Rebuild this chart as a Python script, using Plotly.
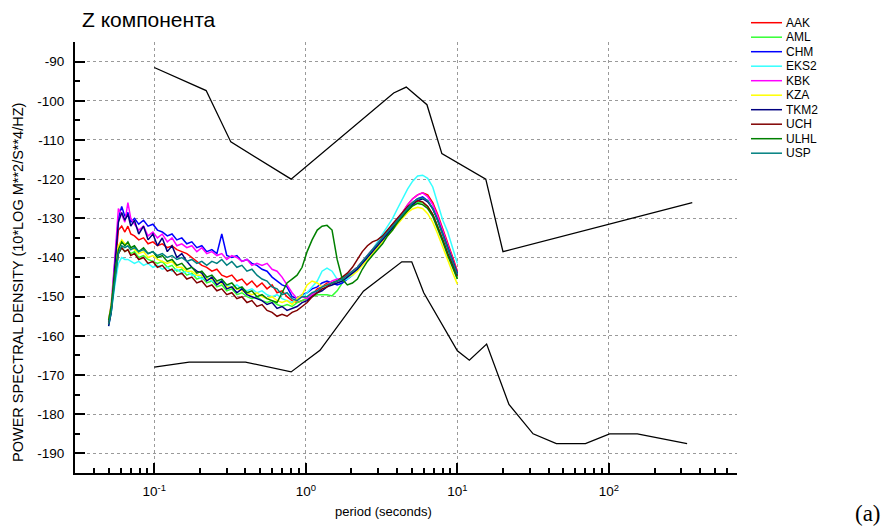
import math
import plotly.graph_objects as go

# ---------------- data ----------------
periods = [0.050, 0.052, 0.055, 0.058, 0.061, 0.064, 0.067, 0.070, 0.074, 0.079,
           0.085, 0.091, 0.098, 0.105, 0.113, 0.122, 0.131, 0.141, 0.152, 0.164,
           0.177, 0.191, 0.206, 0.222, 0.240, 0.259, 0.279, 0.301, 0.325, 0.351,
           0.379, 0.409, 0.441, 0.476, 0.514, 0.555, 0.599, 0.646, 0.697, 0.752,
           0.812, 0.876, 0.945, 1.02, 1.10, 1.19, 1.28, 1.38, 1.49, 1.61,
           1.74, 1.88, 2.03, 2.19, 2.36, 2.55, 2.75, 2.97, 3.21, 3.46,
           3.74, 4.03, 4.35, 4.70, 5.07, 5.47, 5.90, 6.37, 6.88, 7.42,
           8.01, 8.64, 9.33, 10.0]

AAK = [-156.5, -153, -143, -133, -132, -133.5, -132, -134, -134.5, -135.5, -135, -136.5, -136, -137, -136.5,
       -137.5, -137, -138, -138.5, -139, -140, -141, -142, -142.5, -143.5, -143, -144.5, -145, -144.5, -146,
       -145.5, -147, -146, -147.5, -146.5, -148, -147, -149, -148.5, -150, -151, -151.5, -151,
       -150.5, -149.5, -148, -147.5, -146.5, -146.5, -146, -145.5, -144.5, -143.5, -142.5, -141, -139.5, -138,
       -136.5, -135, -133.5, -131.5, -130, -128.5, -126.5, -125, -124, -123.5, -124, -126, -129, -132.5, -136,
       -140, -143.5]
AML = [-156.5, -153, -145, -139, -137.5, -138.5, -138, -139, -138.5, -140, -139.5, -140.5, -141, -141.5, -141,
       -142.5, -142, -143.5, -143, -144.5, -144, -145.5, -145, -146.5, -146, -147.5, -147, -148.5, -148, -149.5,
       -149, -150, -150.5, -150, -151, -151.5, -151, -152, -152.5, -152, -152.5, -151.5, -151,
       -150.5, -150, -149.5, -149.5, -149.5, -149.8, -148.5, -146.5, -145, -144, -143, -141.5, -140, -138.5,
       -137, -135.5, -134, -132.5, -131, -129.5, -128, -126.8, -126, -126, -127, -129, -132, -135.5, -139,
       -142.5, -145.5]
CHM = [-157, -153.5, -141, -130, -127, -129.5, -128.5, -131, -130, -131.5, -130.5, -132, -131.5, -133, -133.5,
       -134.5, -134, -135.5, -135, -136.5, -136, -137.5, -137, -138.5, -138, -139, -134, -139.5, -140, -139.5,
       -141, -140.5, -141.5, -142, -143, -143.5, -145, -146, -147, -147.5, -150, -150.5, -149.5,
       -149, -148, -147.5, -146.5, -146, -146.5, -147, -146.5, -145.5, -144.5, -143, -141.5, -140, -138.5,
       -137, -135.5, -134, -132.5, -131, -129.5, -127.5, -126, -125, -124.5, -125.5, -127.5, -130.5, -134,
       -137.5, -141, -144.5]
EKS2 = [-157.5, -154, -147, -141.5, -140, -140.5, -140.5, -141, -141.5, -141, -142, -141.5, -142.5, -142, -143,
        -142.5, -143.5, -143, -144, -143.5, -144.5, -144.5, -145.5, -145, -146, -146.5, -146, -147, -147.5, -147,
        -148, -148.5, -148, -149, -148.5, -149.5, -150, -149.5, -150.5, -151, -151.5, -150.5, -150,
        -149, -147.5, -146, -143.5, -142.7, -143.5, -145.5, -146, -145.5, -144.5, -143, -141, -139.5, -138,
        -136, -134, -132, -130, -127.5, -125, -122.5, -120.5, -119.2, -119, -119.8, -122, -126.5, -130.5,
        -133.5, -138, -141.5]
KBK = [-156, -152, -140, -127.5, -129, -131, -126, -130, -131.5, -133, -132, -134.5, -133.5, -135, -134,
       -136, -135, -137, -136.5, -137.5, -137, -138.5, -137.5, -139, -138.5, -139.5, -139, -140.5, -139.5, -140,
       -141, -140.5, -142, -141.5, -142, -141.5, -143, -143.5, -145, -147, -149, -150.5, -150,
       -150.5, -149.5, -148.5, -147.5, -147, -146, -145.5, -145.5, -144.5, -143.5, -142.5, -141, -139.5, -138,
       -136.5, -135, -133.5, -131.5, -130, -128.5, -126.5, -125, -124, -123.5, -124.5, -126.5, -129.5, -133,
       -136.5, -140.5, -143.8]
KZA = [-156, -152, -143, -137, -135.5, -136.5, -136.5, -137.5, -138, -139, -138.5, -140, -139.5, -140.5, -141,
       -141.5, -141, -142.5, -142.5, -143.5, -143.5, -144.5, -144.5, -145.5, -145.5, -146.5, -146.5, -147.5,
       -147.5, -148, -148.5, -149, -149.5, -149, -150, -150.5, -150, -151, -151.5, -151, -152, -150.5, -149.5,
       -147, -146, -146.5, -147.5, -147, -146.5, -146, -145.5, -145, -144.5, -143.5, -142, -140.5, -139,
       -137.5, -136, -134.5, -133, -131.5, -130, -128.5, -127.6, -127.2, -127.5, -128.8, -131, -134, -137.5,
       -141, -144, -146.8]
TKM2 = [-157.5, -154, -142, -131, -128.5, -130.5, -129, -132, -130.5, -134, -132, -135.5, -134, -137, -135,
        -138.5, -137, -140, -139, -141, -142.5, -143.5, -144, -146, -145, -147, -146, -148, -147.5, -149,
        -148, -149.5, -150, -150.5, -151, -152, -151.5, -153, -152.5, -153.5, -153, -152.5, -151.5,
        -151, -150, -149, -148.5, -147.5, -147, -146.5, -146, -145, -144, -143, -141.5, -140, -138.5,
        -137, -135.5, -134, -132.5, -131, -129.5, -128, -126.5, -125.5, -125, -125.8, -127.5, -130.5, -134,
        -137.5, -141, -144]
UCH = [-157, -153.5, -145, -139, -137.5, -138.5, -138, -139.5, -139, -140.5, -140, -141.5, -141, -142.5, -142,
       -143.5, -143, -144.5, -144, -145.5, -145, -146.5, -146, -147.5, -147, -148.5, -148, -149.5, -149, -150.5,
       -150, -151.5, -151, -152.5, -152, -153.5, -154, -155, -154.5, -155, -154, -153.5, -152.5,
       -151.5, -150, -149, -148, -147.5, -146.5, -146, -145, -144, -142.5, -140.5, -138.5, -137, -136,
       -135.5, -134.5, -133, -131.5, -130, -128.5, -127, -126, -125.5, -125.8, -127, -129, -132, -135.5,
       -139, -142, -144.8]
ULHL = [-156, -152.5, -144, -138, -136, -137, -136, -137.5, -137, -138.5, -137.5, -139, -138.5, -140, -139.5,
        -141, -140.5, -142, -141.5, -143, -142.5, -144, -143.5, -145, -144.5, -146, -145.5, -147, -146.5, -148,
        -147.5, -149, -148.5, -150, -149.5, -150.5, -151, -151.5, -149, -146.5, -145.5, -144.5, -142.5,
        -138.5, -135.5, -133, -132, -131.8, -133, -140.5, -145.5, -147, -146.5, -145.5, -143, -141, -139.5,
        -138, -136.5, -134.5, -133, -131, -129.5, -128, -126.8, -126.2, -126.5, -127.5, -129.5, -132.5, -136,
        -139.5, -142.5, -145.5]
USP = [-157, -154, -146, -139, -137, -137.5, -137, -138, -137.5, -138.5, -138, -139, -138.5, -139.5, -139,
       -140, -139.5, -140.5, -140, -141, -140.5, -141.5, -141, -142, -141, -141.5, -140.5, -142, -141, -142.5,
       -142, -143.5, -143, -144.5, -145.5, -146, -147.5, -148, -149.5, -149, -150.5, -151, -150,
       -150, -149, -148.5, -147.5, -147, -146.5, -146, -145.5, -144.5, -143.5, -142.5, -141, -139.5, -138,
       -136.5, -135, -133.5, -132, -130.5, -129, -127.5, -126, -125, -124.8, -125.5, -127.5, -130.5, -134,
       -137.5, -141, -144.3]

stations = ["AAK", "AML", "CHM", "EKS2", "KBK", "KZA", "TKM2", "UCH", "ULHL", "USP"]
station_values = [AAK, AML, CHM, EKS2, KBK, KZA, TKM2, UCH, ULHL, USP]
station_colors = ["#ff0000", "#33ff33", "#0000ff", "#33ffff", "#ff00ff",
                  "#ffff00", "#000080", "#800000", "#008000", "#008080"]

# Peterson noise models (high / low)
nhnm_periods = [0.10, 0.22, 0.32, 0.80, 3.80, 4.60, 6.30, 7.90, 15.40, 20.00, 354.80]
nhnm_db = [-91.5, -97.4, -110.5, -120.0, -98.0, -96.5, -101.0, -113.5, -120.0, -138.5, -126.0]
nlnm_periods = [0.10, 0.17, 0.40, 0.80, 1.24, 2.40, 4.30, 5.00, 6.00, 10.00, 12.00, 15.60,
                21.90, 31.60, 45.00, 70.00, 101.00, 154.00, 328.00]
nlnm_db = [-168.0, -166.7, -166.7, -169.2, -163.7, -148.6, -141.1, -141.1, -149.0, -163.8, -166.2,
           -162.1, -177.5, -185.0, -187.5, -187.5, -185.0, -185.0, -187.5]

x_major = [0.1, 1, 10, 100]
x_major_text = ["10<sup>-1</sup>", "10<sup>0</sup>", "10<sup>1</sup>", "10<sup>2</sup>"]
x_minor = [m * d for d in [0.01, 0.1, 1, 10, 100] for m in range(2, 10) if 0.03 <= m * d <= 700]
y_major = list(range(-190, -89, 10))
y_major_text = [str(v) for v in y_major]
y_minor = list(range(-195, -84, 5))

# ---------------- layout helpers ----------------
W, H = 891, 528
L, R, T, B = 75, 737, 42, 473


def px(x):
    return (x - L) / (R - L)


def py(y):
    return (B - y) / (B - T)


FONT = "Arial, Liberation Sans, sans-serif"

fig = go.Figure()

for name, vals, col in zip(stations, station_values, station_colors):
    fig.add_trace(go.Scatter(x=periods, y=vals, mode="lines", name=name,
                             line=dict(color=col, width=1.5), showlegend=False))

fig.add_trace(go.Scatter(x=nhnm_periods, y=nhnm_db, mode="lines", name="NHNM",
                         line=dict(color="black", width=1.3), showlegend=False))
fig.add_trace(go.Scatter(x=nlnm_periods, y=nlnm_db, mode="lines", name="NLNM",
                         line=dict(color="black", width=1.3), showlegend=False))

shapes = []
annotations = []
# manual legend
for i, (name, col) in enumerate(zip(stations, station_colors)):
    yy = 22.7 + 14.5 * i
    shapes.append(dict(type="line", xref="paper", yref="paper",
                       x0=px(751), x1=px(782), y0=py(yy), y1=py(yy),
                       line=dict(color=col, width=1.5)))
    annotations.append(dict(text=name, xref="paper", yref="paper", x=px(784), y=py(yy),
                            xanchor="left", yanchor="middle", showarrow=False,
                            font=dict(family=FONT, size=12, color="black")))

annotations.append(dict(text="Z компонента", xref="paper", yref="paper", x=px(80), y=py(19),
                        xanchor="left", yanchor="middle", showarrow=False,
                        font=dict(family=FONT, size=21, color="black")))
annotations.append(dict(text="POWER SPECTRAL DENSITY (10*LOG M**2/S**4/HZ)", xref="paper", yref="paper",
                        x=px(17.5), y=py(464), textangle=-90, xanchor="center", yanchor="bottom",
                        showarrow=False, font=dict(family=FONT, size=14.5, color="black")))
annotations.append(dict(text="period (seconds)", xref="paper", yref="paper", x=px(383.5), y=py(512),
                        xanchor="center", yanchor="middle", showarrow=False,
                        font=dict(family=FONT, size=13, color="black")))
annotations.append(dict(text="(a)", xref="paper", yref="paper", x=px(868), y=py(513),
                        xanchor="center", yanchor="middle", showarrow=False,
                        font=dict(family="Times New Roman, Liberation Serif, serif", size=23, color="black")))

axis_common = dict(showline=True, linecolor="black", linewidth=2, mirror=False,
                   ticks="inside", ticklen=10, tickwidth=1.5, tickcolor="black",
                   showgrid=True, gridcolor="#9a9a9a", griddash="dot", gridwidth=1,
                   zeroline=False, tickfont=dict(family=FONT, size=13.5, color="black"))

fig.update_layout(
    width=W, height=H,
    margin=dict(l=L, r=W - R, t=T, b=H - B),
    paper_bgcolor="white", plot_bgcolor="white",
    showlegend=False,
    shapes=shapes, annotations=annotations,
    xaxis=dict(type="log", range=[math.log10(0.03), math.log10(700)],
               tickmode="array", tickvals=x_major, ticktext=x_major_text,
               ticklabelstandoff=5,
               minor=dict(tickmode="array", tickvals=x_minor, ticks="inside", ticklen=5,
                          tickwidth=1.5, tickcolor="black", showgrid=False),
               **axis_common),
    yaxis=dict(range=[-195, -85], tickmode="array", tickvals=y_major, ticktext=y_major_text,
               ticklabelstandoff=6,
               minor=dict(tickmode="array", tickvals=y_minor, ticks="inside", ticklen=5,
                          tickwidth=1.5, tickcolor="black", showgrid=False),
               **axis_common),
)

fig.write_html("out.html")
